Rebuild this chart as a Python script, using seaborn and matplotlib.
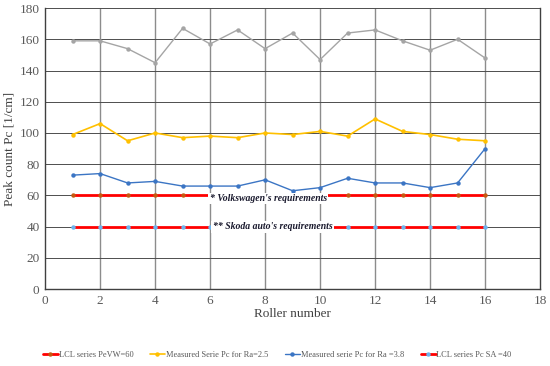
import numpy as np
import pandas as pd
import matplotlib
matplotlib.use("Agg")
import matplotlib.pyplot as plt
import seaborn as sns
from matplotlib.lines import Line2D

rollers = list(range(1, 17))
grey_series = [159, 159, 154, 145, 167, 157, 166, 154, 164, 147, 164, 166, 159, 153, 160, 148]
pc_ra25 = [99, 106, 95, 100, 97, 98, 97, 100, 99, 101, 98, 109, 101, 99, 96, 95]
pc_ra38 = [73, 74, 68, 69, 66, 66, 66, 70, 63, 65, 71, 68, 68, 65, 68, 90]
lcl_vw = [60] * 16
lcl_sa = [40] * 16

legend_labels = ["LCL series PeVW=60", "Measured Serie Pc for Ra=2.5",
                 "Measured serie Pc for Ra =3.8", "LCL series Pc SA =40"]
note_vw = "* Volkswagen's requirements"
note_sa = "** Skoda auto's requirements"

sns.set_style("white")
plt.rcParams["font.family"] = ["Liberation Serif", "DejaVu Serif"]

fig, ax = plt.subplots(figsize=(5.5, 3.66), dpi=100)
fig.subplots_adjust(left=0.082, right=0.982, top=0.978, bottom=0.21)

ms = 3.2
sns.lineplot(x=rollers, y=grey_series, ax=ax, color="#A5A5A5", lw=1.0,
             marker="o", markersize=ms, markeredgewidth=0, zorder=3)
sns.lineplot(x=rollers, y=pc_ra25, ax=ax, color="#FFC000", lw=1.2,
             marker="o", markersize=ms, markeredgewidth=0, zorder=3)
sns.lineplot(x=rollers, y=pc_ra38, ax=ax, color="#3B75C4", lw=1.0,
             marker="o", markersize=ms, markeredgewidth=0, zorder=3)
sns.lineplot(x=rollers, y=lcl_vw, ax=ax, color="#FF0000", lw=2.0,
             marker="o", markersize=ms, markerfacecolor="#C55A11",
             markeredgewidth=0, zorder=3)
sns.lineplot(x=rollers, y=lcl_sa, ax=ax, color="#FF0000", lw=2.0,
             marker="o", markersize=ms, markerfacecolor="#6CB4EE",
             markeredgewidth=0, zorder=3)

# requirement notes, white box hides the line behind
box = dict(facecolor="white", edgecolor="none", pad=1.0)
ax.text(5.98, 58, note_vw, fontsize=7, fontweight="bold", fontstyle="italic",
        color="#1a1a2e", va="center", ha="left", bbox=box, zorder=5)
ax.text(6.1, 40, note_sa, fontsize=7, fontweight="bold", fontstyle="italic",
        color="#1a1a2e", va="center", ha="left", bbox=box, zorder=5)

ax.set_xlim(0, 18)
ax.set_ylim(0, 180)
ax.set_xticks(np.arange(0, 19, 2))
ax.set_yticks(np.arange(0, 181, 20))
ax.tick_params(labelsize=9.5, colors="#595959", length=0, pad=4)
ax.set_xlabel("Roller number", fontsize=9.5, color="#404040", labelpad=1)
ax.set_ylabel("Peak count Pc [1/cm]", fontsize=9.5, color="#404040", labelpad=3)

for x in range(2, 18, 2):
    ax.axvline(x, color="#8C8C8C", lw=1.0, zorder=1)
for y in range(20, 181, 20):
    ax.axhline(y, color="#4D4D4D", lw=0.7, zorder=1)

for side in ["left", "bottom", "right"]:
    ax.spines[side].set_visible(True)
    ax.spines[side].set_color("#404040")
    ax.spines[side].set_linewidth(1.0)
ax.spines["top"].set_visible(False)

handles = [
    Line2D([], [], color="#FF0000", lw=2, marker="o", markersize=ms,
           markerfacecolor="#C55A11", markeredgewidth=0),
    Line2D([], [], color="#FFC000", lw=1.2, marker="o", markersize=ms,
           markeredgewidth=0),
    Line2D([], [], color="#3B75C4", lw=1.0, marker="o", markersize=ms,
           markeredgewidth=0),
    Line2D([], [], color="#FF0000", lw=2, marker="o", markersize=ms,
           markerfacecolor="#6CB4EE", markeredgewidth=0),
]
fig.legend(handles, legend_labels, loc="center", bbox_to_anchor=(0.504, 0.03),
           ncol=4, frameon=False, fontsize=6.0, handlelength=1.8,
           handletextpad=0.1, columnspacing=2.0, labelcolor="#595959")

fig.savefig("out.png", dpi=100)
